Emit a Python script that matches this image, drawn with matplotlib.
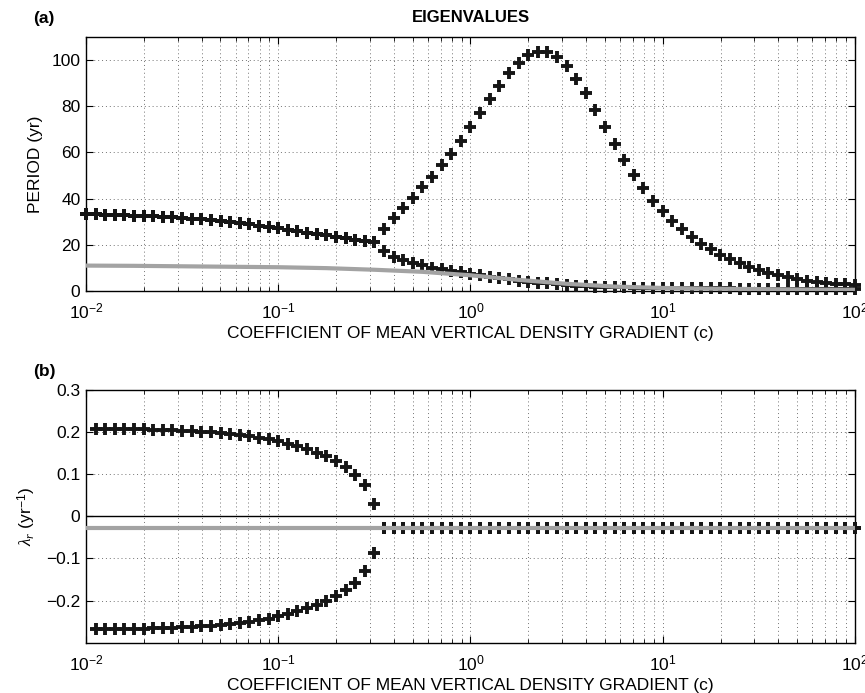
import numpy as np
import matplotlib.pyplot as plt
from matplotlib.ticker import LogLocator, FixedLocator, FixedFormatter, NullFormatter

plt.rcParams['font.family'] = ['Liberation Sans', 'DejaVu Sans']
plt.rcParams['mathtext.fontset'] = 'custom'
plt.rcParams['mathtext.rm'] = 'Liberation Sans'
plt.rcParams['mathtext.it'] = 'Liberation Serif:italic'

# coefficient grid (81 points, 20 per decade)
coef = np.logspace(-2, 2, 81)

# period (yr) before the split, c = 0.01 .. 0.32 (both modes)
period_pre = [33.2, 33.2, 33.0, 32.9, 32.7, 32.6, 32.4, 32.3, 32.1, 31.9,
              31.6, 31.3, 31.0, 30.6, 30.3, 29.8, 29.4, 28.8, 28.2, 27.7,
              27.1, 26.4, 25.8, 25.2, 24.6, 24.0, 23.5, 22.7, 22.0, 21.6,
              21.3]
# after the split: long-period branch
period_long = [26.8, 31.7, 36.0, 40.4, 44.9, 49.5, 54.4, 59.5, 65.1, 70.9,
               77.0, 83.1, 89.0, 94.4, 98.7, 102.2, 103.8, 103.6, 101.6, 97.7,
               91.9, 85.7, 78.5, 70.9, 63.5, 56.6, 50.3, 44.4, 39.1, 34.5,
               30.3, 26.6, 23.3, 20.3, 17.9, 15.5, 13.6, 12.0, 10.5, 9.1,
               7.9, 6.9, 5.9, 5.1, 4.4, 3.8, 3.3, 2.9, 2.7, 2.5]
# after the split: short-period branch
period_short = [17.4, 14.8, 13.3, 11.9, 11.0, 10.0, 9.3, 8.6, 8.0, 7.4,
                6.7, 6.1, 5.5, 4.9, 4.3, 3.9, 3.5, 3.2, 2.8, 2.5,
                2.2, 2.0, 1.8, 1.6, 1.5, 1.4, 1.3, 1.25, 1.2, 1.15,
                1.1, 1.1, 1.05, 1.05, 1.0, 1.0, 1.0, 0.95, 0.95, 0.95,
                0.9, 0.9, 0.9, 0.9, 0.9, 0.9, 0.9, 0.9, 0.9, 0.9]

# growth rate (1/yr), starts at the 2nd grid point
growth_up = [0.2085, 0.2085, 0.2077, 0.2077, 0.2069, 0.2069, 0.2061, 0.2053, 0.2045, 0.2037,
             0.2029, 0.2014, 0.1998, 0.1982, 0.1958, 0.1934, 0.1902, 0.1870, 0.1831, 0.1783,
             0.1727, 0.1664, 0.1592, 0.1512, 0.1425, 0.1313, 0.1170, 0.0979, 0.0733, 0.0295]
growth_down = [-0.2680, -0.2680, -0.2672, -0.2672, -0.2664, -0.2664, -0.2656, -0.2648, -0.2640, -0.2632,
               -0.2625, -0.2609, -0.2593, -0.2577, -0.2553, -0.2529, -0.2497, -0.2465, -0.2426, -0.2378,
               -0.2323, -0.2258, -0.2187, -0.2107, -0.2012, -0.1900, -0.1757, -0.1575, -0.1296, -0.0874]
growth_post = [-0.0286, -0.0286, -0.0286, -0.0286, -0.0286, -0.0286, -0.0286, -0.0286, -0.0286, -0.0286,
               -0.0286, -0.0286, -0.0286, -0.0286, -0.0286, -0.0286, -0.0286, -0.0286, -0.0286, -0.0286,
               -0.0286, -0.0286, -0.0286, -0.0286, -0.0286, -0.0286, -0.0286, -0.0286, -0.0286, -0.0286,
               -0.0286, -0.0286, -0.0286, -0.0286, -0.0286, -0.0286, -0.0286, -0.0286, -0.0286, -0.0286,
               -0.0286, -0.0286, -0.0286, -0.0286, -0.0286, -0.0286, -0.0286, -0.0286, -0.0286, -0.0286]

# gray reference mode
gray_c = [0.01, 0.0178, 0.0316, 0.0562, 0.1, 0.178, 0.316, 0.562, 1.0,
          1.78, 3.16, 5.62, 10.0, 17.8, 31.6, 56.2, 100.0]
gray_period = [10.9, 10.8, 10.6, 10.4, 10.2, 9.8, 9.1, 8.2, 6.7,
               4.7, 3.0, 1.8, 1.2, 0.9, 0.7, 0.5, 0.4]
gray_growth_c = [0.01, 100.0]
gray_growth = [-0.0286, -0.0286]

xlabel = 'COEFFICIENT OF MEAN VERTICAL DENSITY GRADIENT (c)'

mode1_period = period_pre + period_long
mode2_period = period_pre + period_short

fig = plt.figure(figsize=(8.65, 6.93), dpi=100)
ax1 = fig.add_axes([0.0994, 0.5805, 0.889, 0.3657])
ax2 = fig.add_axes([0.0994, 0.0726, 0.889, 0.3646])

mk = dict(marker='+', linestyle='none', color='#161616', markersize=8.5,
          markeredgewidth=2.8, clip_on=False, zorder=3)
gray = dict(color='#a3a3a3', linewidth=3.0, zorder=4, solid_capstyle='butt')

ax1.plot(coef, mode1_period, **mk)
ax1.plot(coef, mode2_period, **mk)
ax1.plot(gray_c, gray_period, **gray)
ax1.set_ylim(0, 110)
ax1.set_yticks([0, 20, 40, 60, 80, 100])
ax1.set_ylabel('PERIOD (yr)', fontsize=12.5, labelpad=6)

ax2.axhline(0, color='black', linewidth=1.0, zorder=2)
ax2.plot(coef[1:31], growth_up, **mk)
ax2.plot(coef[1:31], growth_down, **mk)
ax2.plot(coef[31:], growth_post, **mk)
ax2.plot(coef[31:], growth_post, **mk)
ax2.plot(gray_growth_c, gray_growth, **gray)
ax2.set_ylim(-0.3, 0.3)
ax2.yaxis.set_major_locator(FixedLocator([-0.2, -0.1, 0, 0.1, 0.2, 0.3]))
ax2.yaxis.set_major_formatter(FixedFormatter(['\u22120.2', '\u22120.1', '0', '0.1', '0.2', '0.3']))
ax2.set_ylabel(r'$\mathit{\lambda}_r$ (yr$^{-1}$)', fontsize=12.5, labelpad=6)

for ax in (ax1, ax2):
    ax.set_xscale('log')
    ax.set_xlim(1e-2, 1e2)
    ax.xaxis.set_major_locator(LogLocator(base=10, numticks=10))
    ax.xaxis.set_minor_locator(LogLocator(base=10, subs=np.arange(2, 10), numticks=20))
    ax.xaxis.set_minor_formatter(NullFormatter())
    ax.set_xlabel(xlabel, fontsize=12.5, labelpad=3)
    ax.tick_params(which='both', direction='in', top=True, right=True, labelsize=12.5)
    ax.tick_params(axis='x', which='major', pad=8)
    ax.tick_params(axis='y', which='major', pad=4)
    ax.tick_params(which='major', length=5)
    ax.tick_params(which='minor', length=3)
    ax.grid(True, which='major', color='0.45', linestyle=(0, (1, 3)), linewidth=0.7)
    ax.grid(True, which='minor', axis='x', color='0.45', linestyle=(0, (1, 3)), linewidth=0.7)
    ax.set_axisbelow(True)
    for s in ax.spines.values():
        s.set_linewidth(1.0)

fig.text(0.038, 0.974, '(a)', fontsize=12.5, fontweight='bold', va='center')
fig.text(0.544, 0.975, 'EIGENVALUES', fontsize=12, fontweight='bold', va='center', ha='center')
fig.text(0.038, 0.4646, '(b)', fontsize=12.5, fontweight='bold', va='center')

fig.savefig('out.png', dpi=100)
